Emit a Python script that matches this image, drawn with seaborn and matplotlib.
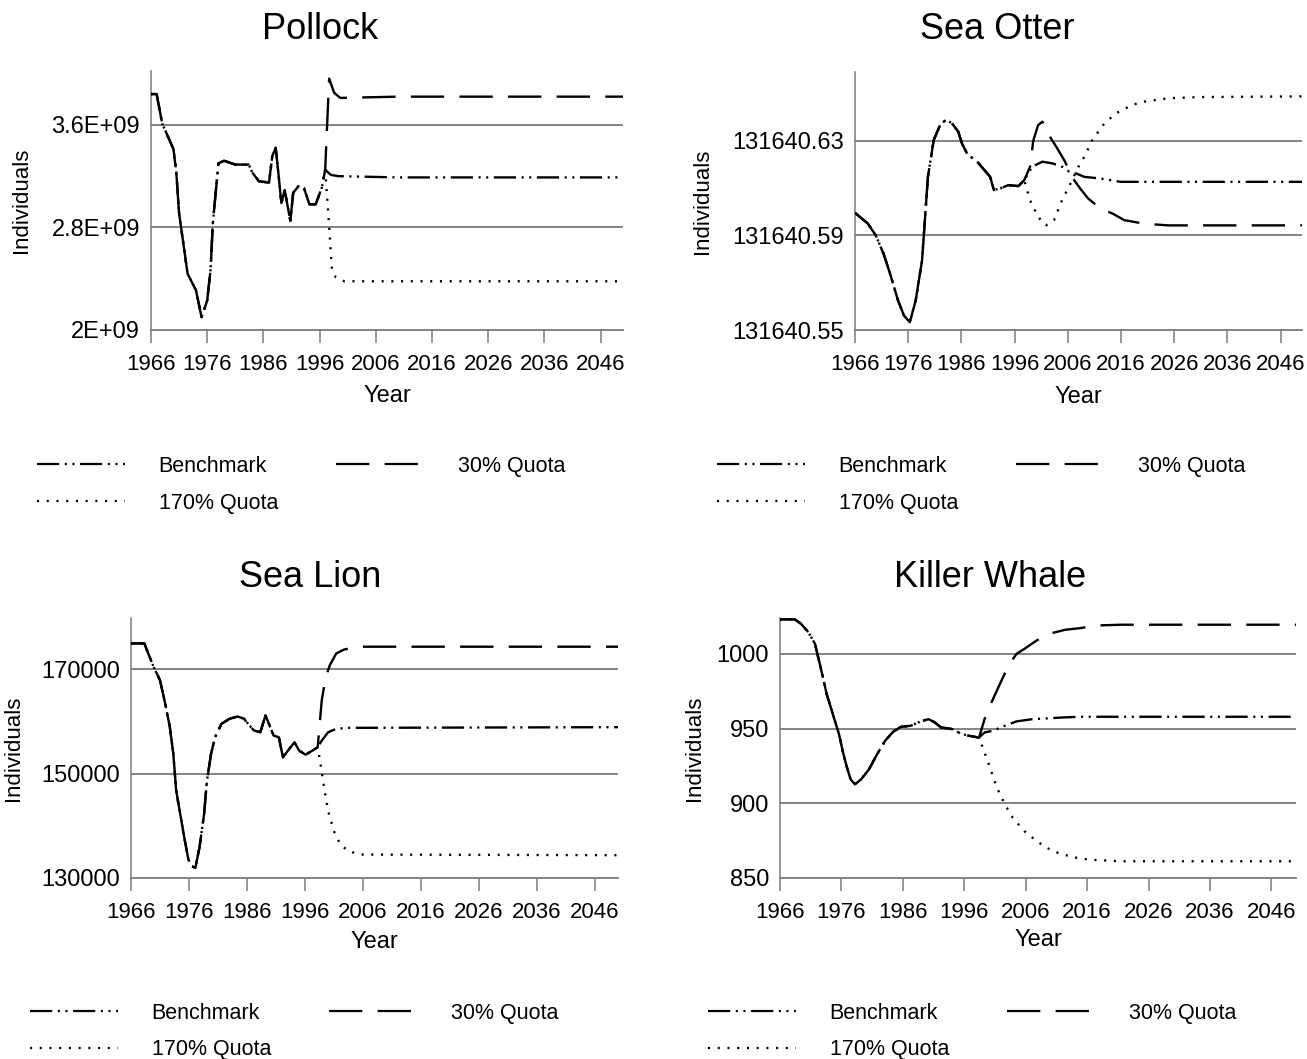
import numpy as np
import pandas as pd
import matplotlib
matplotlib.use("Agg")
import matplotlib.pyplot as plt
import seaborn as sns
from matplotlib.lines import Line2D

# ---------------- data ----------------
scenarios = ["Benchmark", "30% Quota", "170% Quota"]

# Pollock (values in 1e9 individuals)
pollock_hist_years = [1966, 1967, 1968, 1969, 1970, 1970.5, 1971, 1972, 1972.5, 1974, 1975,
                      1976, 1976.6, 1977, 1978, 1979, 1981, 1983.4, 1984, 1985.2, 1987,
                      1987.6, 1988.2, 1988.7, 1989.2, 1989.8, 1990.8, 1991.3, 1992.4,
                      1993.2, 1994.2, 1995.3, 1996.4, 1997]
pollock_hist = [3.84, 3.84, 3.61, 3.51, 3.41, 3.23, 2.91, 2.60, 2.44, 2.31, 2.10,
                2.23, 2.47, 2.83, 3.30, 3.32, 3.29, 3.29, 3.23, 3.16, 3.15,
                3.36, 3.42, 3.21, 2.99, 3.09, 2.85, 3.07, 3.13,
                3.11, 2.98, 2.98, 3.11, 3.25]
pollock_bench_years = [1998, 1999.3, 2010, 2030, 2050]
pollock_bench = [3.21, 3.20, 3.19, 3.19, 3.19]
pollock_q30_years = [1997.7, 1998.6, 1999.7, 2010, 2030, 2050]
pollock_q30 = [3.96, 3.85, 3.81, 3.82, 3.82, 3.82]
pollock_q170_years = [1997.7, 1998.2, 1998.9, 2000.4, 2010, 2030, 2050]
pollock_q170 = [2.81, 2.47, 2.41, 2.38, 2.38, 2.38, 2.38]

# Sea Otter
otter_hist_years = [1966, 1968.4, 1969.9, 1971.4, 1972.6, 1974.1, 1975.2, 1976.3, 1977.4,
                    1978.6, 1979.7, 1980.8, 1982.0, 1983.1, 1984.2, 1985.4, 1986.1,
                    1987.2, 1988.7, 1990.3, 1991.4, 1992.1, 1993.3, 1994.8, 1996.7, 1997.8]
otter_hist = [131640.5995, 131640.5950, 131640.5900, 131640.5820, 131640.5737, 131640.5624,
              131640.5561, 131640.5533, 131640.5624, 131640.5794, 131640.6147, 131640.6303,
              131640.6366, 131640.6388, 131640.6374, 131640.6338, 131640.6288, 131640.6239,
              131640.6218, 131640.6176, 131640.6147, 131640.6091, 131640.6098, 131640.6112,
              131640.6108, 131640.6133]
otter_bench_years = [1999.3, 2001.2, 2003.1, 2004.9, 2006.5, 2007.6, 2009.1, 2012.1, 2015.9, 2050]
otter_bench = [131640.6190, 131640.6211, 131640.6204, 131640.6190, 131640.6165, 131640.6161,
               131640.6147, 131640.6140, 131640.6126, 131640.6126]
otter_q30_years = [1998.9, 1999.5, 2000.4, 2001.2, 2002.0, 2002.8, 2003.8, 2005.3, 2007.2,
                   2008.3, 2009.8, 2012.1, 2014.4, 2016.6, 2020.4, 2024.9, 2050]
otter_q30 = [131640.6190, 131640.6300, 131640.6365, 131640.6380, 131640.6360, 131640.6310,
             131640.6275, 131640.6218, 131640.6133, 131640.6098, 131640.6056, 131640.6013,
             131640.5992, 131640.5964, 131640.5949, 131640.5942, 131640.5942]
otter_q170_years = [1998.9, 2000.4, 2001.9, 2003.4, 2004.9, 2006.5, 2008.0, 2009.1, 2010.6,
                    2012.9, 2015.1, 2018.1, 2020.4, 2024.9, 2030.9, 2050]
otter_q170 = [131640.6048, 131640.5978, 131640.5942, 131640.5964, 131640.6048, 131640.6119,
              131640.6190, 131640.6232, 131640.6303, 131640.6374, 131640.6416, 131640.6451,
              131640.6465, 131640.6479, 131640.6484, 131640.6487]

# Sea Lion
lion_hist_years = [1966, 1968.3, 1969.2, 1969.9, 1971.0, 1971.9, 1972.7, 1973.3, 1973.8, 1974.5,
                   1975.2, 1975.9, 1976.5, 1977.1, 1977.8, 1978.6, 1979.1, 1979.8, 1980.5,
                   1981.6, 1983.0, 1984.4, 1985.5, 1986.2, 1987.2, 1988.3, 1989.2, 1989.9,
                   1990.6, 1991.5, 1992.2, 1993.3, 1994.2, 1995.0, 1996.1, 1997.3, 1998.2]
lion_hist = [174940, 174940, 172370, 170450, 167880, 163380, 158890, 153750, 146690, 142200,
             137700, 133530, 132250, 131930, 135780, 142200, 148620, 153750, 156960,
             159530, 160500, 160940, 160500, 159530, 158250, 157920, 161130, 159210,
             157280, 156960, 153110, 154720, 156000, 154400, 153620, 154400, 155040]
lion_bench_years = [1998.9, 2000.0, 2001.4, 2003.5, 2050]
lion_bench = [156320, 157920, 158570, 158760, 158890]
lion_q30_years = [1998.9, 1999.6, 2000.3, 2001.4, 2002.8, 2005.6, 2050]
lion_q30 = [164030, 168520, 170770, 173010, 173780, 174300, 174300]
lion_q170_years = [1998.6, 1999.3, 2000.0, 2001.0, 2002.1, 2003.5, 2005.6, 2050]
lion_q170 = [152470, 147330, 142840, 138990, 136420, 135140, 134490, 134370]

# Killer Whale
whale_hist_years = [1966, 1968.4, 1969.4, 1970.6, 1971.7, 1972.6, 1973.6, 1974.6, 1975.6,
                    1976.2, 1976.9, 1977.5, 1978.2, 1979.2, 1980.5, 1981.8, 1983.1, 1984.4,
                    1985.7, 1987.3, 1988.9, 1990.2, 1991.2, 1992.2, 1994.1, 1995.4, 1996.7,
                    1998.4]
whale_hist = [1023.1, 1023.1, 1020.2, 1014.6, 1006.7, 991.1, 973.1, 959.7, 946.3,
              935.1, 923.9, 916.0, 912.7, 916.0, 922.8, 932.8, 941.8, 947.8,
              951.2, 951.9, 954.8, 956.3, 954.1, 950.8, 949.6, 946.7, 945.2,
              944.0]
whale_bench_years = [1999.3, 2000.6, 2002.6, 2004.5, 2007.1, 2012.4, 2015.0, 2050]
whale_bench = [947.4, 948.5, 951.9, 954.8, 956.3, 957.5, 957.9, 957.9]
whale_q30_years = [1999.3, 2000.3, 2001.3, 2002.3, 2003.2, 2004.5, 2005.8, 2007.8, 2009.8,
                   2012.4, 2015.0, 2017.6, 2021.5, 2050]
whale_q30 = [956.3, 966.4, 975.4, 984.3, 992.2, 1000.0, 1003.4, 1009.0, 1013.4,
             1016.1, 1017.3, 1019.0, 1019.5, 1019.5]
whale_q170_years = [1999.0, 2000.0, 2001.3, 2002.6, 2003.9, 2005.8, 2007.8, 2010.4, 2013.7,
                    2016.3, 2021.5, 2050]
whale_q170 = [937.3, 926.1, 910.5, 899.3, 890.3, 881.3, 874.6, 867.9, 863.9,
              862.3, 861.2, 861.2]

year_ticks = [1966, 1976, 1986, 1996, 2006, 2016, 2026, 2036, 2046]
pollock_yticks = [2.0, 2.8, 3.6]
pollock_ytick_labels = ["2E+09", "2.8E+09", "3.6E+09"]
otter_yticks = [131640.55, 131640.59, 131640.63]
otter_ytick_labels = ["131640.55", "131640.59", "131640.63"]
lion_yticks = [130000, 150000, 170000]
lion_ytick_labels = ["130000", "150000", "170000"]
whale_yticks = [850, 900, 950, 1000]
whale_ytick_labels = ["850", "900", "950", "1000"]

# ---------------- styling ----------------
sns.set_style("white")
plt.rcParams["font.family"] = ["Liberation Sans", "DejaVu Sans"]
plt.rcParams["lines.scale_dashes"] = False
plt.rcParams["text.color"] = "black"
plt.rcParams["axes.labelcolor"] = "black"
plt.rcParams["xtick.color"] = "black"
plt.rcParams["ytick.color"] = "black"

dash_map = {"Benchmark": (16, 4, 1.5, 4, 1.5, 4),
            "30% Quota": (24, 11),
            "170% Quota": (1.5, 5.5)}
palette = {s: "black" for s in scenarios}
GRID = "#7a7a7a"

W, H = 1307, 1059
fig = plt.figure(figsize=(W / 100, H / 100), dpi=100)


def px_axes(left, right, top, bottom):
    return fig.add_axes([left / W, 1 - bottom / H, (right - left) / W, (bottom - top) / H])


def build_df(hy, hv, projections):
    rows = []
    for name, (py, pv) in zip(scenarios, projections):
        for x, v in zip(list(hy) + list(py), list(hv) + list(pv)):
            rows.append((name, x, v))
    return pd.DataFrame(rows, columns=["Scenario", "Year", "Individuals"])


panels = [
    dict(title="Pollock", box=(151, 623, 71, 330), ylim=(2.0, 4.02),
         yt=pollock_yticks, ytl=pollock_ytick_labels,
         data=build_df(pollock_hist_years, pollock_hist,
                       [(pollock_bench_years, pollock_bench),
                        (pollock_q30_years, pollock_q30),
                        (pollock_q170_years, pollock_q170)]),
         title_xy=(320, 39), ylab_x=22, xlab_y=396, leg=(37, 456)),
    dict(title="Sea Otter", box=(855, 1302, 72, 330), ylim=(131640.55, 131640.659),
         yt=otter_yticks, ytl=otter_ytick_labels,
         data=build_df(otter_hist_years, otter_hist,
                       [(otter_bench_years, otter_bench),
                        (otter_q30_years, otter_q30),
                        (otter_q170_years, otter_q170)]),
         title_xy=(997, 39), ylab_x=702, xlab_y=397, leg=(717, 456)),
    dict(title="Sea Lion", box=(131, 618, 618, 878), ylim=(130000, 179800),
         yt=lion_yticks, ytl=lion_ytick_labels,
         data=build_df(lion_hist_years, lion_hist,
                       [(lion_bench_years, lion_bench),
                        (lion_q30_years, lion_q30),
                        (lion_q170_years, lion_q170)]),
         title_xy=(310, 587), ylab_x=14, xlab_y=942, leg=(30, 1003)),
    dict(title="Killer Whale", box=(780, 1296, 618, 878), ylim=(850, 1024),
         yt=whale_yticks, ytl=whale_ytick_labels,
         data=build_df(whale_hist_years, whale_hist,
                       [(whale_bench_years, whale_bench),
                        (whale_q30_years, whale_q30),
                        (whale_q170_years, whale_q170)]),
         title_xy=(990, 587), ylab_x=694, xlab_y=940, leg=(708, 1003)),
]

for p in panels:
    left, right, top, bottom = p["box"]
    ax = px_axes(left, right, top, bottom)
    ax.set_facecolor("white")
    for y in p["yt"][1:]:
        ax.axhline(y, color=GRID, lw=1.3, zorder=1)
    sns.lineplot(data=p["data"], x="Year", y="Individuals", hue="Scenario",
                 style="Scenario", palette=palette, dashes=dash_map,
                 estimator=None, sort=False, legend=False, linewidth=1.7, ax=ax, zorder=3)
    ax.set_xlim(1966, 2050)
    ax.set_ylim(*p["ylim"])
    ax.set_xticks(year_ticks)
    ax.set_xticklabels([str(t) for t in year_ticks], fontsize=16)
    ax.set_yticks(p["yt"])
    ax.set_yticklabels(p["ytl"], fontsize=17)
    ax.tick_params(axis="x", direction="out", length=9, width=1.1, color=GRID, pad=8,
                   bottom=True, labelcolor="black")
    ax.tick_params(axis="y", length=0, pad=8, labelcolor="black")
    for s in ["top", "right"]:
        ax.spines[s].set_visible(False)
    ax.spines["left"].set_color(GRID)
    ax.spines["left"].set_linewidth(1.1)
    ax.spines["bottom"].set_color(GRID)
    ax.spines["bottom"].set_linewidth(1.3)
    ax.set_xlabel("Year", fontsize=17, color="black")
    ax.set_ylabel("Individuals", fontsize=16, color="black")
    ax.xaxis.label.set_va("center")
    ax.yaxis.label.set_va("center")
    wpx, hpx = right - left, bottom - top
    ax.xaxis.set_label_coords(0.5, (bottom - p["xlab_y"]) / hpx)
    ax.yaxis.set_label_coords((p["ylab_x"] - left) / wpx, 0.5)

    tx, ty = p["title_xy"]
    fig.text(tx / W, 1 - ty / H, p["title"], ha="center", va="baseline", fontsize=26,
             color="black")

    handles = [Line2D([], [], color="black", lw=1.6, dashes=dash_map[s]) for s in scenarios]
    order = [0, 2, 1]
    lx, ly = p["leg"]
    leg = fig.legend([handles[i] for i in order], [scenarios[i] for i in order],
                     loc="upper left", bbox_to_anchor=(lx / W, 1 - ly / H),
                     ncol=2, frameon=False, fontsize=15.5, handlelength=4.1,
                     handletextpad=1.55, columnspacing=2.7, labelspacing=0.72,
                     borderpad=0, borderaxespad=0)
    for t in leg.get_texts():
        t.set_color("black")

fig.savefig("out.png", dpi=100, facecolor="white")
